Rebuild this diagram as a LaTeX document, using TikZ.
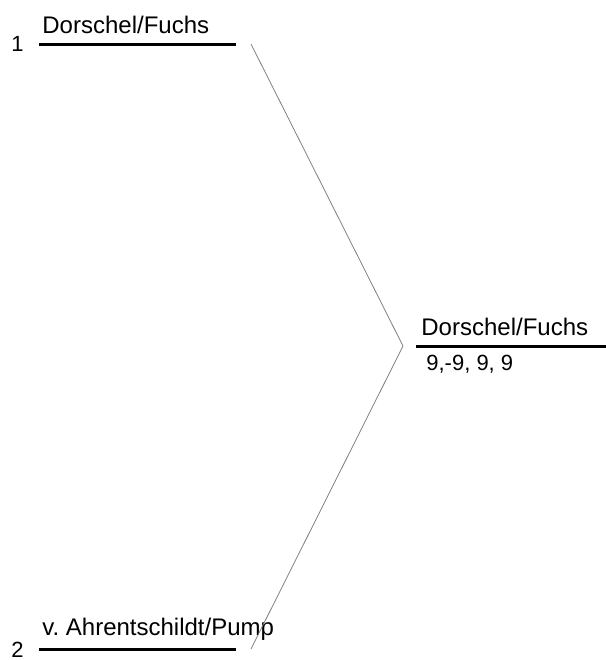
\documentclass[tikz,border=0pt]{standalone}
\usepackage{fontspec}
\setmainfont{Liberation Sans}
\usetikzlibrary{positioning}
\frenchspacing
\tikzset{slot/.style={line width=1.5pt}, % the line a pair stands on
team/.style={font=\fontsize{12}{14}\selectfont, inner sep=0pt, anchor=base west}, % names of a pair
seed/.style={font=\fontsize{11}{13}\selectfont, inner sep=0pt, anchor=base west}, % seed and score
link/.style={gray, line width=0.4pt}, % the thin bracket line
}

\begin{document}
\begin{tikzpicture}[x=0.5pt, y=-0.5pt]
\useasboundingbox (0,0) rectangle (606,660);
% first round
\coordinate (a1) at (39,44);
\coordinate (a2) at (236,44);
\coordinate (b1) at (39,649);
\coordinate (b2) at (236,649);
\draw[slot] (a1) -- (a2);
\draw[slot] (b1) -- (b2);
\node[seed] (s1) at (11,51) {1};
\node[seed] (s2) at (11,657) {2};
\node[team] (t1) at (42,33) {Dorschel/Fuchs};
\node[team] (t2) at (42,635) {v. Ahrentschildt/Pump};
% final
\coordinate (w1) at (416,346);
\coordinate (w2) at (606,346);
\draw[slot] (w1) -- (w2);
\node[team] (tw) at (421,335) {Dorschel/Fuchs};
\node[seed] (score) at (426,370) {9,-9, 9, 9};
% bracket
\coordinate (ja) at (251,44);
\coordinate (jw) at (403,346);
\coordinate (jb) at (251,649);
\draw[link] (ja) -- (jw) -- (jb);
\end{tikzpicture}
\end{document}
